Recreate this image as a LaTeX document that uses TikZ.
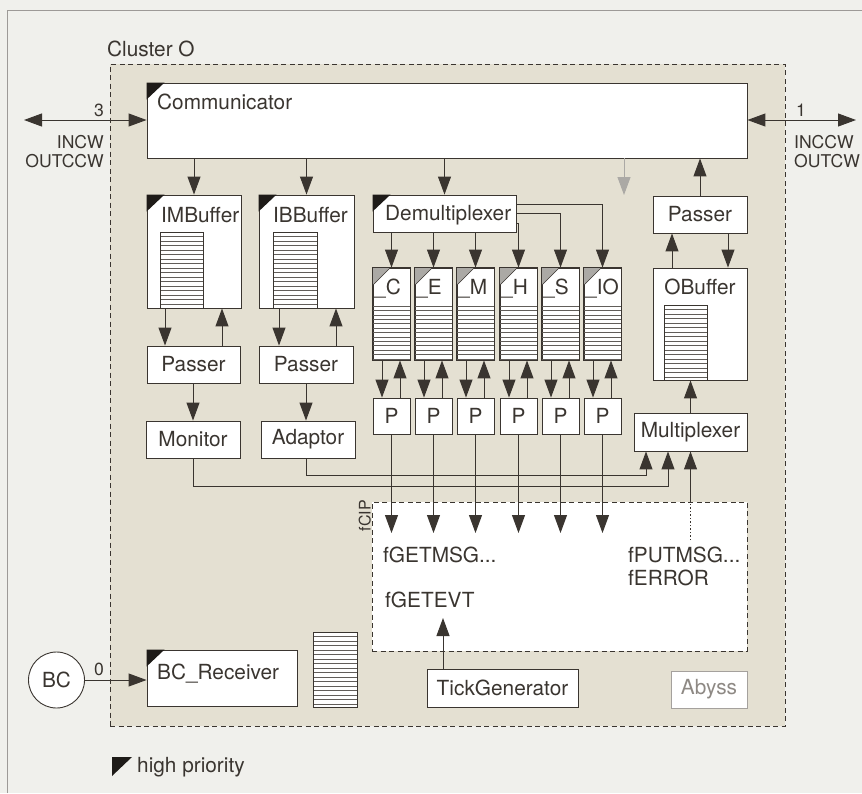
\documentclass[tikz,border=0pt]{standalone}
\usepackage{fontspec}
\setmainfont{TeX Gyre Heros}
\usetikzlibrary{arrows.meta,fit,calc}
\definecolor{ink}{HTML}{3A3530}
\definecolor{paper}{HTML}{F0F0EC}
\definecolor{clus}{HTML}{E4E0D2}
\definecolor{qgray}{HTML}{ABA9A5}
\definecolor{abyss}{HTML}{8E8984}
\definecolor{prio}{HTML}{1E1B18}
\newcommand\mainfs{\fontsize{20.8}{25}\selectfont}
\newcommand\smallfs{\fontsize{17.6}{21}\selectfont}
\newcommand\tinyfs{\fontsize{16}{19}\selectfont}
\newcommand\stripebox[6]{%
  \fill[white] (#1,#2) rectangle (#3,#4);
  \foreach \i in {1,...,#6} {\draw[stripe] (#1,{#2+\i*#5}) -- (#3,{#2+\i*#5});}
  \draw[ink, line width=0.8pt] (#1,#2) rectangle (#3,#4);
}
\newcommand\prioflag[1]{\fill[prio] (#1) -- ++(18,0) -- ++(-18,17) -- cycle;}
\tikzset{tip/.tip={Triangle[length=18pt,width=13pt]}}
\begin{document}
\begin{tikzpicture}[x=1pt,y=-1pt,
  box/.style={draw=ink, fill=white, line width=0.9pt, inner sep=0pt},
  txt/.style={inner sep=0pt, text=ink, font=\mainfs},
  small/.style={inner sep=0pt, text=ink, font=\smallfs},
  stripe/.style={draw=ink!80, line width=0.5pt},
  arr/.style={draw=ink, line width=1pt, -tip},
  grayarr/.style={draw=qgray, line width=1pt, -tip},
  dblarr/.style={draw=ink, line width=1pt, tip-tip},
  dashedbox/.style={draw=ink, line width=0.8pt, dash pattern=on 5pt off 3.5pt, inner sep=0pt},
]
\fill[paper] (0,0) rectangle (862,793);
\useasboundingbox (0,0) rectangle (862,793);
\draw[ink!50, line width=0.6pt] (7,793) -- (7,10) -- (862,10);

% cluster
\node[dashedbox, fill=clus, fit={(110,64)(785,726)}] (cluster) {};
\node[txt, anchor=base west] (clusterT) at (107,56) {Cluster O};

% fCIP area
\node[dashedbox, fill=white, fit={(372,502)(747,651)}] (fcip) {};
\node[font=\tinyfs, text=ink, inner sep=0pt, rotate=90, anchor=south east] (fcipT) at (371,500) {fCIP};
\node[txt, anchor=base west] (getmsg) at (383,562) {fGETMSG...};
\node[txt, anchor=base west] (getevt) at (385,607) {fGETEVT};
\node[txt, anchor=base west] (putmsg) at (628,562) {fPUTMSG...};
\node[txt, anchor=base west] (ferror) at (628,585) {fERROR};

% Communicator
\node[box, fit={(147,83)(747,158)}] (comm) {};
\prioflag{comm.north west}
\node[txt, anchor=base west] (commT) at (157,109) {Communicator};
\coordinate (leftEnd) at (24,120);
\coordinate (rightEnd) at (856,120);
\draw[dblarr] (leftEnd) -- (leftEnd -| comm.west);
\draw[dblarr] (rightEnd -| comm.east) -- (rightEnd);
\node[small, anchor=base east] (n3) at (104,116) {3};
\node[small, anchor=base east] (incw) at (104,148) {INCW};
\node[small, anchor=base east] (outccw) at (104,167) {OUTCCW};
\node[small, anchor=base west] (n1) at (796,116) {1};
\node[small, anchor=base west] (inccw) at (794,148) {INCCW};
\node[small, anchor=base west] (outcw) at (794,167) {OUTCW};

% IMBuffer / IBBuffer
\node[box, fit={(147,195)(241,308)}] (imb) {};
\prioflag{imb.north west}
\node[txt, anchor=base west] (imbT) at (161,222) {IMBuffer};
\stripebox{160}{232}{203}{308}{4.5}{16}
\node[box, fit={(259,195)(354,308)}] (ibb) {};
\prioflag{ibb.north west}
\node[txt, anchor=base west] (ibbT) at (273,222) {IBBuffer};
\stripebox{273}{232}{317}{308}{4.5}{16}

\node[box, fit={(147,346)(240,383)}] (pasM) {};
\node[txt] at (pasM) {Passer};
\node[box, fit={(259,346)(353,383)}] (pasB) {};
\node[txt] at (pasB) {Passer};
\node[box, fit={(146,421)(240,458)}] (mon) {};
\node[txt] at (mon) {Monitor};
\node[box, fit={(261,421)(355,458)}] (ada) {};
\node[txt] at (ada) {Adaptor};

\draw[arr] (comm.south -| imb.north) -- (imb.north);
\draw[arr] (comm.south -| ibb.north) -- (ibb.north);
\draw[arr] ([xshift=-29pt]imb.south) -- ([xshift=-28.5pt]pasM.north);
\draw[arr] ([xshift=28pt]imb.south |- pasM.north) -- ([xshift=28pt]imb.south);
\draw[arr] ([xshift=-27.5pt]ibb.south) -- ([xshift=-27.5pt]ibb.south |- pasB.north);
\draw[arr] ([xshift=29.5pt]ibb.south |- pasB.north) -- ([xshift=29.5pt]ibb.south);
\draw[arr] (pasM.south -| mon.north) -- (mon.north);
\draw[arr] (pasB.south) -- (ada.north -| pasB.south);

% Demultiplexer
\node[box, fit={(373,195)(516,232)}] (demux) {};
\prioflag{demux.north west}
\node[txt, anchor=base west] (demuxT) at (385,220) {Demultiplexer};
\draw[arr] (comm.south -| demux.north) -- (demux.north);

\coordinate (fcipArrow) at (0,533);
\foreach \n/\lx in {C/373, E/415, M/457, H/500, S/542, IO/584} {
  \node[box, fit={(\lx,268)(\lx+37,360)}] (q\n) {};
  \foreach \i in {0,...,12} {\draw[stripe] (\lx,{306+\i*4.4}) -- (\lx+37,{306+\i*4.4});}
  \fill[qgray] (\lx,268) -- (\lx+17,268) -- (\lx,285) -- cycle;
  \draw[ink, line width=0.5pt] (\lx+17,268) -- (\lx,285);
  \draw[ink, line width=0.9pt] (q\n.north west) rectangle (q\n.south east);
  \node[txt, anchor=base west] (q\n T) at (\lx+1,294) {\_\n};
  \node[box, fit={(\lx,398)(\lx+37,434)}] (p\n) {};
  \node[txt] at (p\n) {P};
  \draw[arr] ([xshift=-9.5pt]q\n.south) -- ([xshift=-9.5pt]p\n.north);
  \draw[arr] ([xshift=8.5pt]p\n.north) -- ([xshift=8.5pt]q\n.south);
  \draw[arr] (p\n.south) -- (p\n.south |- fcipArrow);
}
\draw[arr] (demux.south -| qC.north) -- (qC.north);
\draw[arr] (demux.south -| qE.north) -- (qE.north);
\draw[arr] (demux.south -| qM.north) -- (qM.north);
\draw[arr] (demux.east |- 0,223) -| (qH.north);
\draw[arr] (demux.east |- 0,213) -| (qS.north);
\draw[arr] (demux.east |- 0,204) -| (qIO.north);

% gray arrow
\coordinate (grayEnd) at (624,195);
\draw[grayarr] (comm.south -| grayEnd) -- (grayEnd);

% right column
\node[box, fit={(653,196)(747,233)}] (pasR) {};
\node[txt] at (pasR) {Passer};
\node[box, fit={(653,268)(747,380)}] (obuf) {};
\node[txt, anchor=base] (obufT) at (700,294) {OBuffer};
\stripebox{664}{305}{707}{380}{4.5}{16}
\node[box, fit={(634,413)(747,451)}] (mux) {};
\node[txt] at (mux) {Multiplexer};
\draw[arr] (pasR.north) -- (comm.south -| pasR.north);
\draw[arr] ([xshift=-28pt]obuf.north) -- ([xshift=-28pt]pasR.south);
\draw[arr] ([xshift=28pt]pasR.south) -- ([xshift=28pt]obuf.north);
\draw[arr] (mux.north) -- (obuf.south -| mux.north);

\draw[arr] (mon.south) -- (mon.south |- 0,486) -| ([xshift=-22.5pt]mux.south);
\draw[arr] (ada.south -| pasB.south) -- (pasB.south |- 0,475) -| ([xshift=-44.5pt]mux.south);
\coordinate (putEnd) at (690.5,540);
\draw[ink, line width=0.9pt, dash pattern=on 1.5pt off 2pt] (putEnd) -- (putEnd |- fcip.north);
\draw[arr] (putEnd |- fcip.north) -- (mux.south -| putEnd);

% bottom
\node[box, fit={(427,669)(578,707)}] (tick) {};
\node[txt] at (tick) {TickGenerator};
\coordinate (evtEnd) at (443,618);
\draw[arr] (tick.north -| evtEnd) -- (evtEnd);
\node[box, draw=abyss!80, fit={(671,671)(747,708)}] (abyss) {};
\node[txt, text=abyss] at (abyss) {Abyss};

\node[circle, draw=ink, fill=white, line width=0.9pt, minimum size=56pt, inner sep=0pt, text=ink, font=\mainfs] (bc) at (56.5,680) {BC};
\node[box, fit={(147,650)(297,706)}] (bcr) {};
\prioflag{bcr.north west}
\node[txt, anchor=base west] (bcrT) at (157,679) {BC\_Receiver};
\draw[arr] (bc.east) -- (bc.east -| bcr.west);
\node[small, anchor=base east] (n0) at (104,675) {0};
\stripebox{313}{632}{357}{707}{4.5}{16}

% legend
\fill[prio] (112,757) -- (132,757) -- (112,776) -- cycle;
\node[txt, anchor=base west] (legT) at (137,772) {high priority};
\end{tikzpicture}
\end{document}
